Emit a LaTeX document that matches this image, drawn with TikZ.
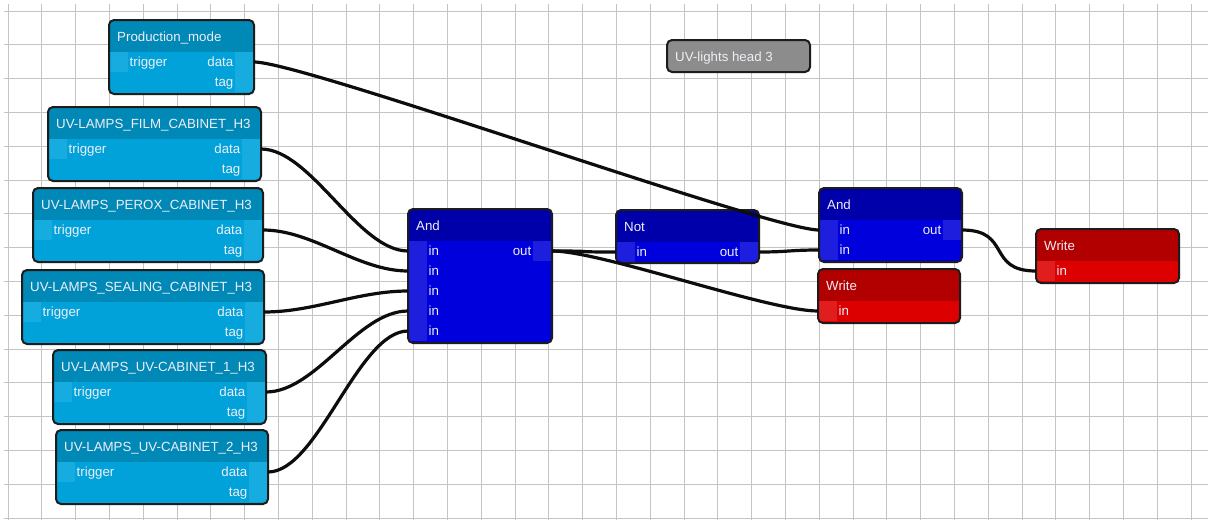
\documentclass[tikz,border=0pt]{standalone}
\usepackage{fontspec}
\setmainfont{Liberation Sans}
\usetikzlibrary{positioning}

\definecolor{cyanhead}{RGB}{0,136,182}
\definecolor{cyanbody}{RGB}{0,162,217}
\definecolor{cyanport}{RGB}{22,172,223}
\definecolor{bluehead}{RGB}{0,0,170}
\definecolor{bluebody}{RGB}{0,0,220}
\definecolor{blueport}{RGB}{30,30,222}
\definecolor{redhead}{RGB}{178,0,0}
\definecolor{redbody}{RGB}{221,0,0}
\definecolor{redport}{RGB}{224,30,30}
\definecolor{notegray}{RGB}{140,140,140}
\definecolor{edgecol}{RGB}{28,28,28}
\definecolor{gridcol}{RGB}{196,196,196}
\definecolor{txt}{RGB}{238,238,246}

% block: name, x, y, width, height, header, body, title, ports
\newcommand{\fblock}[9]{%
  \node[blockbox, minimum width=#4pt, minimum height=#5pt] (#1) at (#2,#3) {};
  \begin{scope}
    \clip[rounded corners=5pt] (#1.north west) rectangle (#1.south east);
    \fill[#7] (#1.north west) rectangle (#1.south east);
    \fill[#6] (#1.north west) rectangle ([yshift=-32pt]#1.north east);
    #9
  \end{scope}
  \draw[blockedge] (#1.north west) rectangle (#1.south east);
  \node[btitle] at ([xshift=8pt,yshift=-21.5pt]#1.north west) {#8};
}
% source block with trigger / data / tag
\newcommand{\srcblock}[5]{%
  \fblock{#1}{#2}{#3}{#4}{74}{cyanhead}{cyanbody}{#5}{%
    \node[lport=cyanport, label={[plabel]right:trigger}] (#1-trigger) at ([yshift=-32pt]#1.north west) {};
    \node[rport=cyanport, label={[plabel]left:data}] (#1-data) at ([yshift=-32pt]#1.north east) {};
    \node[rport=cyanport, below=0pt of #1-data, label={[plabel]left:tag}] (#1-tag) {};}%
}

\begin{document}
\begin{tikzpicture}[x=1pt,y=-1pt]
    \tikzset{blockbox/.style = {anchor=north west, inner sep=0pt, outer sep=0pt}}
    \tikzset{blockedge/.style = {draw=edgecol, line width=2pt, rounded corners=5pt}}
    \tikzset{btitle/.style = {anchor=base west, inner sep=0pt, text=txt, font=\fontsize{13.3}{16}\selectfont}}
    \tikzset{plabel/.style = {inner sep=1.5pt, text height=9.5pt, text depth=0pt, yshift=0.5pt, text=txt, font=\fontsize{13.3}{16}\selectfont}}
    \tikzset{lport/.style = {fill=#1, anchor=north west, minimum width=19pt, minimum height=20pt, inner sep=0pt, outer sep=0pt}}
    \tikzset{rport/.style = {fill=#1, anchor=north east, minimum width=19pt, minimum height=20pt, inner sep=0pt, outer sep=0pt}}
    \tikzset{wire/.style = {draw=black!95, line width=3.2pt}}
    \tikzset{gridline/.style = {draw=gridcol, line width=1pt}}

    \fill[white] (0,0) rectangle (1208,520);
    \useasboundingbox (0,0) rectangle (1208,520);
    % grid
    \foreach \i in {0,...,35}
        \draw[gridline] ({8+33.8*\i},4) -- ({8+33.8*\i},520);
    \foreach \j in {0,...,15}
        \draw[gridline] (4,{11+33.8*\j}) -- (1208,{11+33.8*\j});

    % sources
    \srcblock{prod}{109}{20}{145}{Production\_mode}
    \srcblock{film}{48}{107}{213}{UV-LAMPS\_FILM\_CABINET\_H3}
    \srcblock{perox}{33}{188}{230}{UV-LAMPS\_PEROX\_CABINET\_H3}
    \srcblock{seal}{22}{270}{242}{UV-LAMPS\_SEALING\_CABINET\_H3}
    \srcblock{uvone}{53}{350}{213}{UV-LAMPS\_UV-CABINET\_1\_H3}
    \srcblock{uvtwo}{56}{430}{212}{UV-LAMPS\_UV-CABINET\_2\_H3}

    % logic
    \fblock{andA}{408}{209}{144}{134}{bluehead}{bluebody}{And}{%
        \node[lport=blueport, label={[plabel]right:in}] (andA-in1) at ([yshift=-32pt]andA.north west) {};
        \node[lport=blueport, below=0pt of andA-in1, label={[plabel]right:in}] (andA-in2) {};
        \node[lport=blueport, below=0pt of andA-in2, label={[plabel]right:in}] (andA-in3) {};
        \node[lport=blueport, below=0pt of andA-in3, label={[plabel]right:in}] (andA-in4) {};
        \node[lport=blueport, below=0pt of andA-in4, label={[plabel]right:in}] (andA-in5) {};
        \node[rport=blueport, label={[plabel]left:out}] (andA-out) at ([yshift=-32pt]andA.north east) {};}
    \fblock{not}{616}{210}{143}{53}{bluehead}{bluebody}{Not}{%
        \node[lport=blueport, label={[plabel]right:in}] (not-in) at ([yshift=-32pt]not.north west) {};
        \node[rport=blueport, label={[plabel]left:out}] (not-out) at ([yshift=-32pt]not.north east) {};}
    \fblock{andB}{819}{188}{143}{74}{bluehead}{bluebody}{And}{%
        \node[lport=blueport, label={[plabel]right:in}] (andB-in1) at ([yshift=-32pt]andB.north west) {};
        \node[lport=blueport, below=0pt of andB-in1, label={[plabel]right:in}] (andB-in2) {};
        \node[rport=blueport, label={[plabel]left:out}] (andB-out) at ([yshift=-32pt]andB.north east) {};}

    % outputs
    \fblock{writeA}{818}{269}{142}{54}{redhead}{redbody}{Write}{%
        \node[lport=redport, label={[plabel]right:in}] (writeA-in) at ([yshift=-32pt]writeA.north west) {};}
    \fblock{writeB}{1036}{229}{143}{54}{redhead}{redbody}{Write}{%
        \node[lport=redport, label={[plabel]right:in}] (writeB-in) at ([yshift=-32pt]writeB.north west) {};}

    % comment box
    \fblock{note}{667}{40}{143}{32}{notegray}{notegray}{UV-lights head 3}{}

    % wires
    \draw[wire] (prod-data.east) .. controls +(50,0) and +(-50,0) .. (andB-in1.west);
    \draw[wire] (film-data.east) .. controls +(50,0) and +(-50,0) .. (andA-in1.west);
    \draw[wire] (perox-data.east) .. controls +(50,0) and +(-50,0) .. (andA-in2.west);
    \draw[wire] (seal-data.east) .. controls +(50,0) and +(-50,0) .. (andA-in3.west);
    \draw[wire] (uvone-data.east) .. controls +(50,0) and +(-50,0) .. (andA-in4.west);
    \draw[wire] (uvtwo-data.east) .. controls +(50,0) and +(-50,0) .. (andA-in5.west);
    \draw[wire] (andA-out.east) .. controls +(50,0) and +(-50,0) .. (not-in.west);
    \draw[wire] (andA-out.east) .. controls +(50,0) and +(-50,0) .. (writeA-in.west);
    \draw[wire] (not-out.east) .. controls +(30,0) and +(-30,0) .. (andB-in2.west);
    \draw[wire] (andB-out.east) .. controls +(50,0) and +(-50,0) .. (writeB-in.west);
\end{tikzpicture}
\end{document}
